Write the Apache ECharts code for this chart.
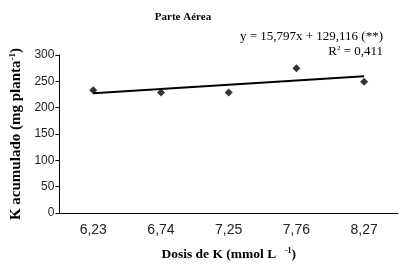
<!DOCTYPE html>
<html><head><meta charset="utf-8">
<script src="https://cdn.jsdelivr.net/npm/echarts@6/dist/echarts.min.js"></script>
<style>html,body{margin:0;padding:0;background:#fff}#c{width:407px;height:267px}</style>
</head><body><div id="c"></div>
<script>
var categories = ['6,23', '6,74', '7,25', '7,76', '8,27'];
var kAcumulado = [233, 229, 229, 275, 249];
var trendEnds = [227.5, 259.8];
var yTicks = [0, 50, 100, 150, 200, 250, 300];

var chart = echarts.init(document.getElementById('c'));
var serif = '"Liberation Serif", "Times New Roman", serif';
var sans = '"Liberation Sans", Arial, sans-serif';
chart.setOption({
  animation: false,
  backgroundColor: '#fff',
  title: [{
    text: 'Parte Aérea', left: 178, top: 7, textAlign: 'center',
    textStyle: {fontFamily: serif, fontWeight: 'bold', fontSize: 11, color: '#000'}
  }, {
    text: 'y = 15,797x + 129,116 (**)', right: 19, top: 25,
    textStyle: {fontFamily: serif, fontWeight: 'normal', fontSize: 13, color: '#000'}
  }, {
    text: '{n|R}{s|2}{n| = 0,411}', right: 19, top: 40,
    textStyle: {fontWeight: 'normal', rich: {
      n: {fontFamily: serif, fontWeight: 'normal', fontSize: 13, color: '#000'},
      s: {fontFamily: serif, fontWeight: 'normal', fontSize: 7, color: '#000', verticalAlign: 'top', padding: [0,0,6,0]}
    }}
  }],
  grid: {left: 55, right: 9, top: 55, bottom: 54},
  xAxis: {
    type: 'category', data: categories, boundaryGap: true,
    axisLine: {lineStyle: {color: '#000', width: 1}},
    axisTick: {length: 4, lineStyle: {color: '#000'}},
    axisLabel: {fontFamily: sans, fontSize: 14, color: '#222', margin: 10},
    name: '{b|Dosis de K (mmol L  }{s|-1}{b|)}', nameLocation: 'middle', nameGap: 34,
    nameTextStyle: {rich: {
      b: {fontFamily: serif, fontWeight: 'bold', fontSize: 13.5, color: '#000'},
      s: {fontFamily: serif, fontWeight: 'bold', fontSize: 8, color: '#000', verticalAlign: 'top', padding: [0,0,7,2]}
    }}
  },
  yAxis: {
    type: 'value', min: 0, max: 300, interval: 50,
    axisLine: {show: true, lineStyle: {color: '#000', width: 1}},
    axisTick: {show: true, length: 4, lineStyle: {color: '#000'}},
    splitLine: {show: false},
    axisLabel: {fontFamily: sans, fontSize: 12, color: '#222', margin: 5,
      formatter: function (v) { return yTicks.indexOf(v) >= 0 ? String(v) : ''; }},
    name: '{b|K acumulado (mg planta}{s|-1}{b|)}', nameLocation: 'middle', nameGap: 33, nameRotate: 90,
    nameTextStyle: {rich: {
      b: {fontFamily: serif, fontWeight: 'bold', fontSize: 15, color: '#000'},
      s: {fontFamily: serif, fontWeight: 'bold', fontSize: 9, color: '#000', verticalAlign: 'top', padding: [0,0,7,0]}
    }}
  },
  series: [{
    type: 'line', data: [[0, trendEnds[0]], [categories.length - 1, trendEnds[1]]],
    symbol: 'none', lineStyle: {color: '#000', width: 2}, z: 1
  }, {
    type: 'scatter', data: kAcumulado, symbol: 'diamond', symbolSize: 8,
    itemStyle: {color: '#000'}, z: 2
  }]
});
</script></body></html>
